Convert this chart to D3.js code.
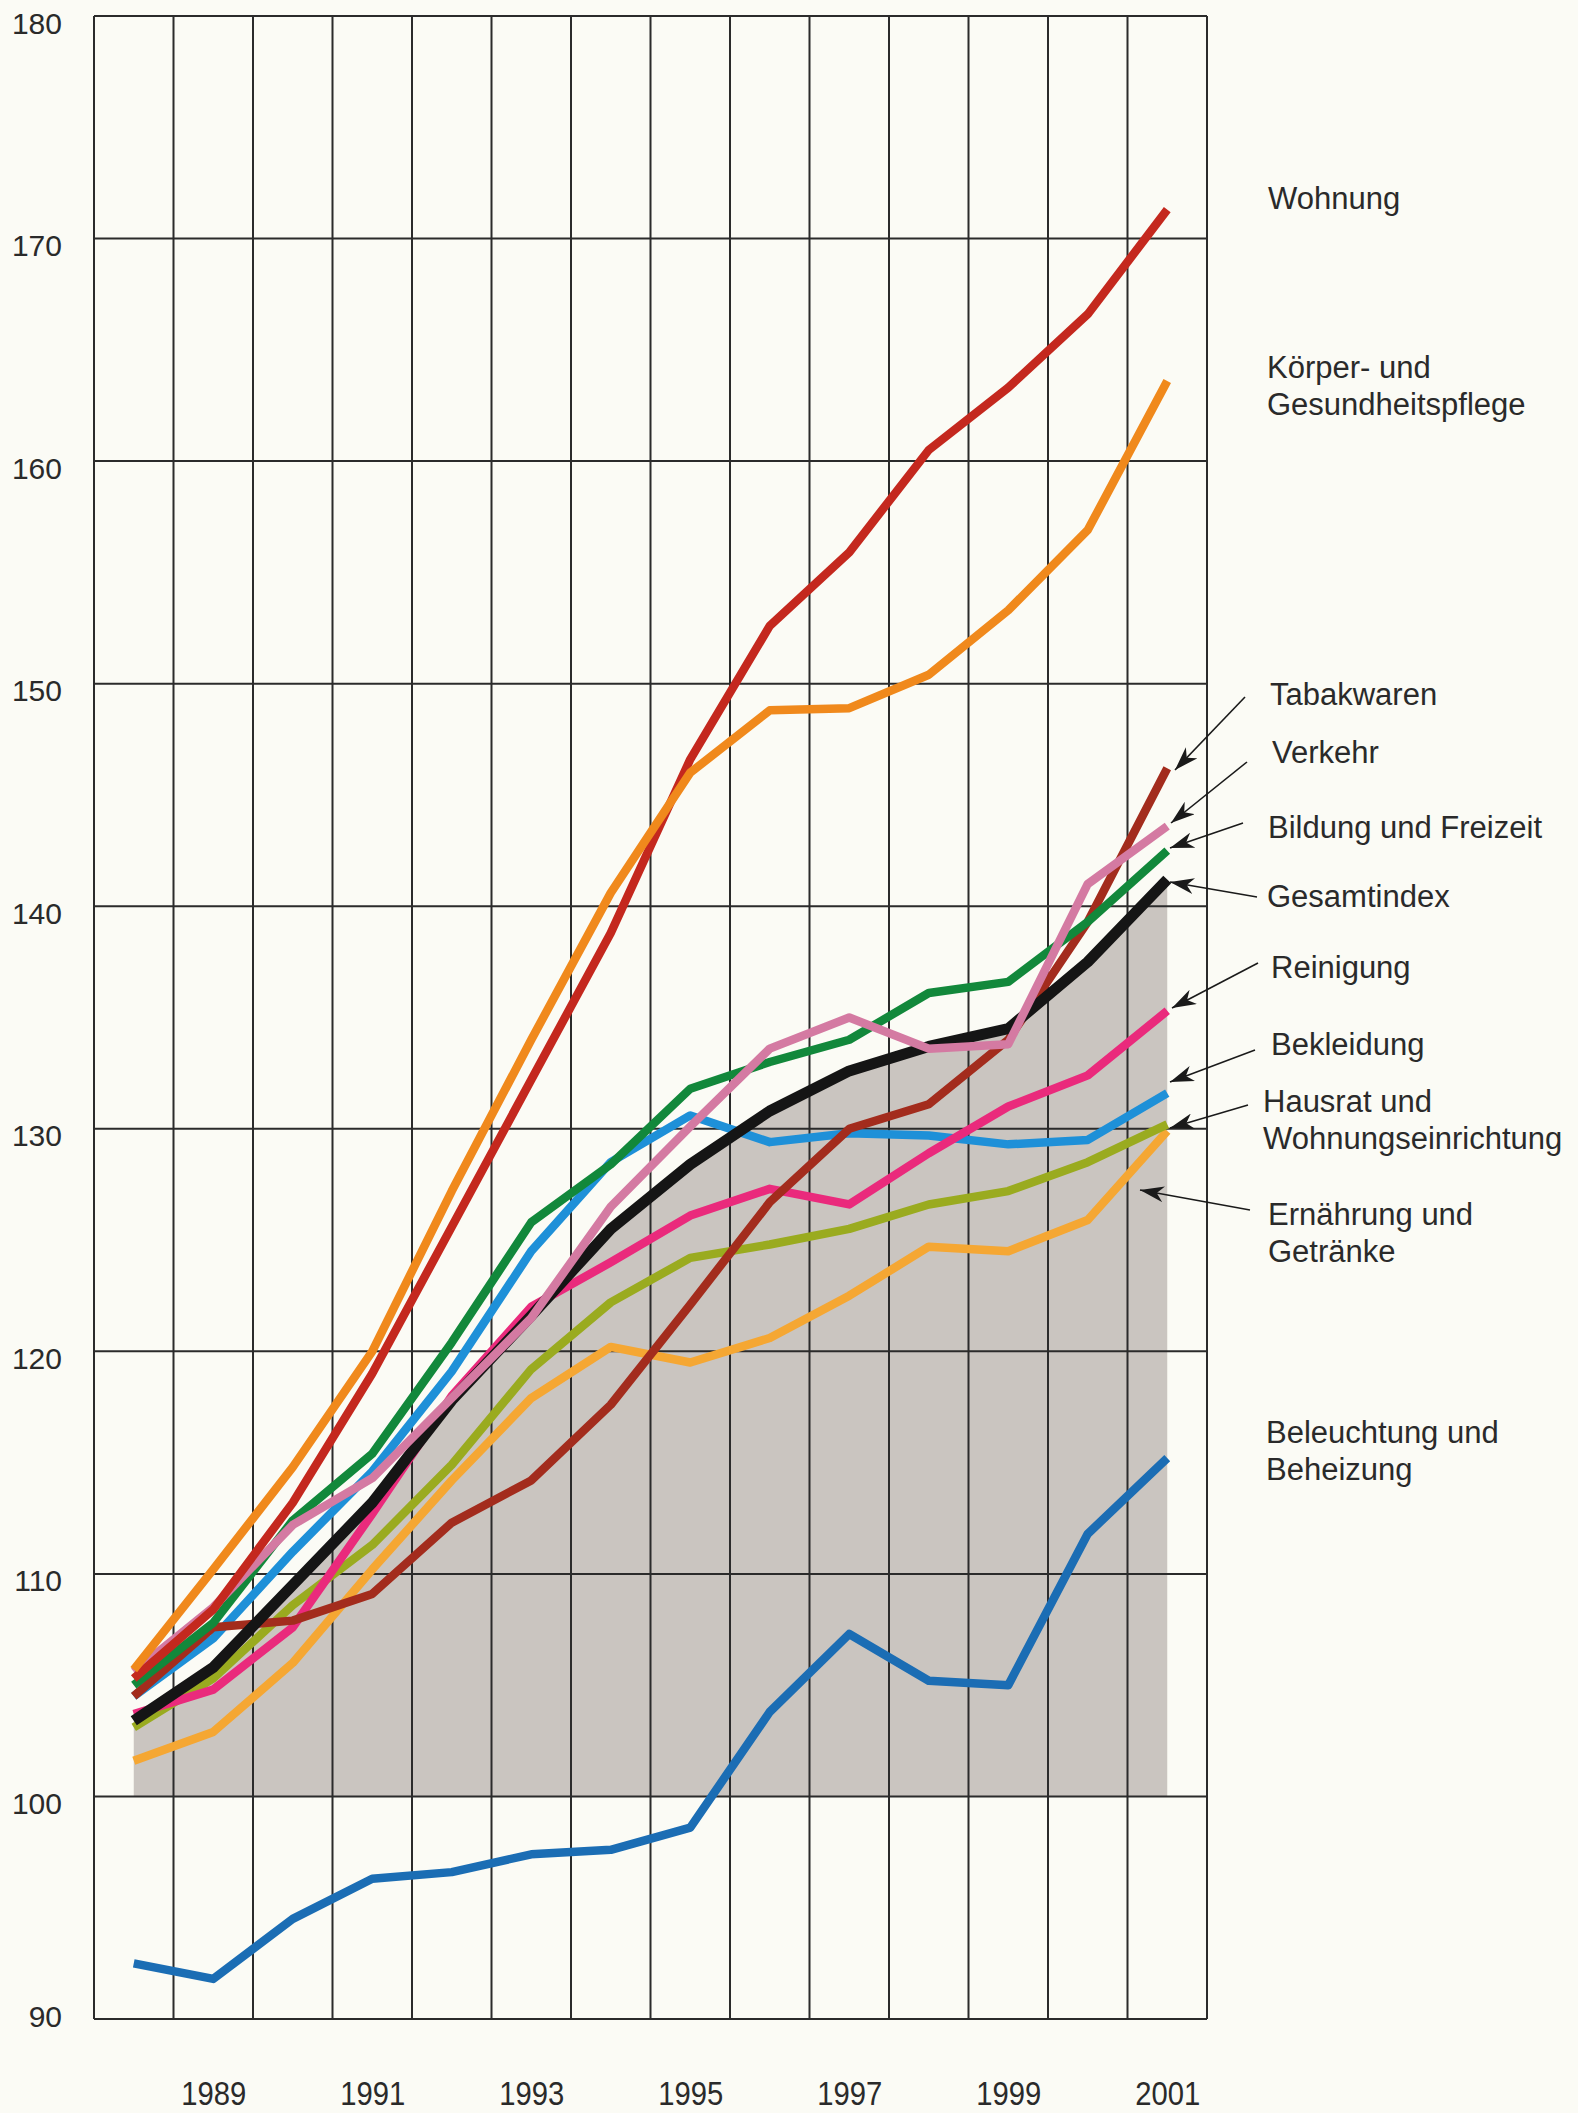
<!DOCTYPE html>
<html><head><meta charset="utf-8">
<script src="https://cdn.jsdelivr.net/npm/d3@7"></script>
<style>html,body{margin:0;padding:0;background:#fbfbf5;} svg{display:block;}</style>
</head><body><div id="chart"></div>
<script>
// ---- data ----
const years = [1988,1989,1990,1991,1992,1993,1994,1995,1996,1997,1998,1999,2000,2001];
const yearTickLabels = [1989,1991,1993,1995,1997,1999,2001];
const valueTicks = [90,100,110,120,130,140,150,160,170,180];

const gesamtindex   = [103.4,105.8,109.5,113.2,117.8,121.6,125.5,128.4,130.8,132.6,133.7,134.5,137.5,141.2];
const wohnung       = [105.3,108.4,113.2,119.0,125.6,132.2,138.8,146.6,152.6,155.9,160.5,163.3,166.6,171.3];
const koerperpflege = [105.7,110.2,114.8,120.0,127.2,134.0,140.6,146.0,148.8,148.9,150.4,153.3,156.9,163.6];
const tabakwaren    = [104.5,107.6,107.9,109.1,112.3,114.2,117.6,122.1,126.7,130.0,131.1,134.0,139.3,146.2];
const verkehr       = [105.6,108.5,112.2,114.3,117.9,121.5,126.5,130.1,133.6,135.0,133.6,133.8,141.0,143.6];
const bildung       = [105.0,107.8,112.4,115.4,120.4,125.8,128.4,131.8,133.0,134.0,136.1,136.6,139.3,142.5];
const reinigung     = [103.7,104.8,107.6,112.7,118.0,122.0,124.0,126.1,127.3,126.6,128.9,131.0,132.4,135.3];
const bekleidung    = [104.5,107.1,111.0,114.6,119.1,124.5,128.5,130.6,129.4,129.8,129.7,129.3,129.5,131.6];
const hausrat       = [103.1,105.3,108.6,111.3,114.9,119.2,122.2,124.2,124.8,125.5,126.6,127.2,128.5,130.2];
const ernaehrung    = [101.6,102.9,106.0,110.2,114.2,117.9,120.2,119.5,120.6,122.5,124.7,124.5,125.9,129.9];
const beleuchtung   = [92.5,91.8,94.5,96.3,96.6,97.4,97.6,98.6,103.8,107.3,105.2,105.0,111.8,115.2];

// ---- styles (drawing order bottom -> top) ----
const seriesStyle = [
  {data: beleuchtung,   color:'#1b6db4', width:8.5},
  {data: ernaehrung,    color:'#f5a733', width:8.5},
  {data: hausrat,       color:'#9aab1f', width:8.5},
  {data: bekleidung,    color:'#1e90d8', width:8.5},
  {data: reinigung,     color:'#ea2a7c', width:8.5},
  {data: tabakwaren,    color:'#a32c1d', width:8.5},
  {data: bildung,       color:'#12883b', width:8.5},
  {data: gesamtindex,   color:'#151515', width:11},
  {data: verkehr,       color:'#d47aa2', width:8.5},
  {data: wohnung,       color:'#c4281e', width:8.5},
  {data: koerperpflege, color:'#f0891c', width:8.5}
];

const labelLayout = [
  {lines:["Wohnung"], x:1268, y:209},
  {lines:["Körper- und","Gesundheitspflege"], x:1267, y:378},
  {lines:["Tabakwaren"], x:1270, y:705, arrow:[1245,697,1175,770]},
  {lines:["Verkehr"], x:1272, y:763, arrow:[1247,762,1171,823]},
  {lines:["Bildung und Freizeit"], x:1268, y:838, arrow:[1243,823,1170,848]},
  {lines:["Gesamtindex"], x:1267, y:907, arrow:[1257,897,1170,882]},
  {lines:["Reinigung"], x:1271, y:978, arrow:[1258,963,1172,1008]},
  {lines:["Bekleidung"], x:1271, y:1055, arrow:[1255,1050,1170,1082]},
  {lines:["Hausrat und","Wohnungseinrichtung"], x:1263, y:1112, arrow:[1248,1105,1170,1128]},
  {lines:["Ernährung und","Getränke"], x:1268, y:1225, arrow:[1250,1210,1140,1190]},
  {lines:["Beleuchtung und","Beheizung"], x:1266, y:1443}
];

// ---- layout ----
const W = 1578, H = 2113;
const plot = {left:94, right:1207, top:16, bottom:2019};
const font = '"Liberation Sans", Arial, Helvetica, sans-serif';
const ink = '#2a2a2a';

const x = d3.scalePoint().domain(years).range([plot.left, plot.right]).padding(0.5);
const y = d3.scaleLinear().domain([90,180]).range([plot.bottom, plot.top]);

const svg = d3.select('#chart').append('svg').attr('width', W).attr('height', H);
svg.append('rect').attr('width', W).attr('height', H).attr('fill', '#fbfbf5');

// shaded area under Gesamtindex down to 100
svg.append('path')
  .datum(gesamtindex)
  .attr('d', d3.area().x((d,i) => x(years[i])).y0(y(100)).y1(d => y(d)))
  .attr('fill', '#cac5c0');

// grid
const step = x.step();
const gridG = svg.append('g').attr('stroke', '#2b2b2b').attr('stroke-width', 2).attr('fill','none');
gridG.selectAll('line.v').data(d3.range(years.length + 1)).join('line')
  .attr('x1', k => plot.left + k*step).attr('x2', k => plot.left + k*step)
  .attr('y1', y(180)).attr('y2', y(90));
gridG.selectAll('line.h').data(valueTicks).join('line')
  .attr('x1', plot.left).attr('x2', plot.right)
  .attr('y1', d => y(d)).attr('y2', d => y(d));

// lines
const line = d3.line().x((d,i) => x(years[i])).y(d => y(d));
svg.append('g').selectAll('path').data(seriesStyle).join('path')
  .attr('d', s => line(s.data))
  .attr('fill', 'none')
  .attr('stroke', s => s.color)
  .attr('stroke-width', s => s.width)
  .attr('stroke-linejoin', 'round')
  .attr('stroke-linecap', 'butt');

// y axis labels
const yAxis = svg.append('g').attr('transform', 'translate(62,0)')
  .call(d3.axisLeft(y).tickValues(valueTicks).tickSize(0).tickPadding(0));
yAxis.select('.domain').remove();
yAxis.selectAll('text')
  .attr('x', 0)
  .attr('dy', d => d === 90 ? '7px' : '17px')
  .attr('font-family', font).attr('font-size', 30).attr('fill', ink);

// x axis labels
const xAxis = svg.append('g').attr('transform', 'translate(0,2105)')
  .call(d3.axisBottom(x).tickValues(yearTickLabels).tickSize(0).tickPadding(0));
xAxis.select('.domain').remove();
xAxis.selectAll('text')
  .attr('y', 0).attr('dy', 0)
  .attr('transform', 'scale(0.885,1)')
  .attr('font-family', font).attr('font-size', 33).attr('fill', ink);

// arrowhead marker
svg.append('defs').append('marker')
  .attr('id', 'ah').attr('markerUnits', 'userSpaceOnUse')
  .attr('viewBox', '0 0 24 16').attr('refX', 24).attr('refY', 8)
  .attr('markerWidth', 24).attr('markerHeight', 16).attr('orient', 'auto')
  .append('path').attr('d', 'M24,8 L0,0 L7,8 L0,16 Z').attr('fill', '#1a1a1a');

// labels
const lab = svg.append('g').attr('font-family', font).attr('font-size', 31).attr('fill', ink);
labelLayout.forEach(l => {
  const t = lab.append('text').attr('x', l.x).attr('y', l.y);
  l.lines.forEach((s, i) => t.append('tspan').attr('x', l.x).attr('dy', i === 0 ? 0 : 36.5).text(s));
  if (l.arrow) {
    svg.append('line')
      .attr('x1', l.arrow[0]).attr('y1', l.arrow[1])
      .attr('x2', l.arrow[2]).attr('y2', l.arrow[3])
      .attr('stroke', '#1a1a1a').attr('stroke-width', 1.6)
      .attr('marker-end', 'url(#ah)');
  }
});
</script>
</body></html>
